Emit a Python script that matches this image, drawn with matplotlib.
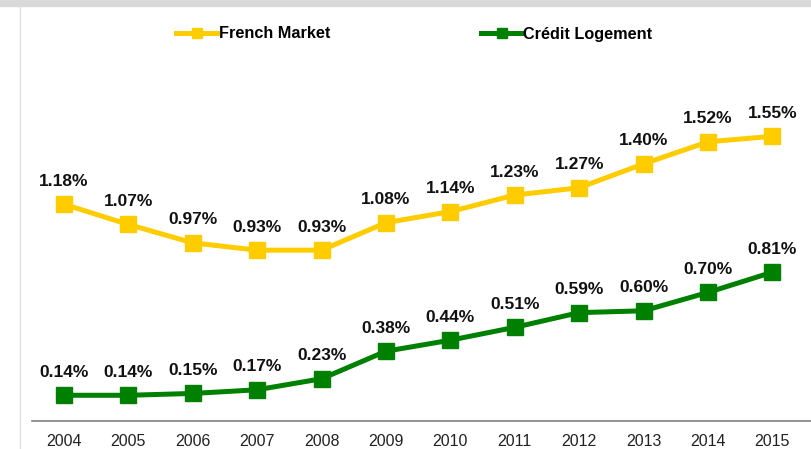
import matplotlib.pyplot as plt
from matplotlib.patches import Rectangle
from matplotlib.lines import Line2D

plt.rcParams['font.family'] = ['Liberation Sans', 'DejaVu Sans']

years = [2004, 2005, 2006, 2007, 2008, 2009, 2010, 2011, 2012, 2013, 2014, 2015]
french_market = [1.18, 1.07, 0.97, 0.93, 0.93, 1.08, 1.14, 1.23, 1.27, 1.40, 1.52, 1.55]
credit_logement = [0.14, 0.14, 0.15, 0.17, 0.23, 0.38, 0.44, 0.51, 0.59, 0.60, 0.70, 0.81]

YELLOW = '#FFCC00'
GREEN = '#008000'

fig = plt.figure(figsize=(8.11, 4.49), dpi=100)
ax = fig.add_axes([32 / 811, 28 / 449, 779 / 811, 414 / 449])

series = [("French Market", french_market, YELLOW),
          ("Crédit Logement", credit_logement, GREEN)]
for name, vals, col in series:
    ax.plot(years, vals, color=col, lw=3.6, marker='s', ms=11,
            label=name, solid_joinstyle='round')
    for x, v in zip(years, vals):
        ax.annotate(f"{v:.2f}%", (x, v), xytext=(0, 16.5), textcoords='offset points',
                    ha='center', va='center', fontsize=12.5, fontweight='bold',
                    color='#111111')

ax.set_xlim(2003.503, 2015.6)
ax.set_ylim(0, 2.254)
ax.set_xticks(years)
ax.set_xticklabels([str(y) for y in years], fontsize=11.5, color='#222222')
ax.tick_params(axis='x', length=0, pad=9)
ax.set_yticks([])
for s in ['top', 'right', 'left']:
    ax.spines[s].set_visible(False)
ax.spines['bottom'].set_color('#808080')
ax.spines['bottom'].set_linewidth(1.2)

fig.legend(loc='center', bbox_to_anchor=(0.5 + 9 / 811, 1 - 34 / 449), ncol=2,
           frameon=False, handlelength=2.5, handletextpad=0.1,
           columnspacing=9.3, markerscale=0.7,
           prop={'size': 11.7, 'weight': 'bold'})

# grey band at the top and thin frame line at the left
fig.patches.append(Rectangle((0, 1 - 6 / 449), 1, 6 / 449, transform=fig.transFigure,
                             color='#d9d9d9', zorder=0))
fig.lines.append(Line2D([20 / 811, 20 / 811], [0, 1 - 7 / 449], transform=fig.transFigure,
                        color='#e0e0e0', lw=1))

fig.savefig('out.png', dpi=100)
